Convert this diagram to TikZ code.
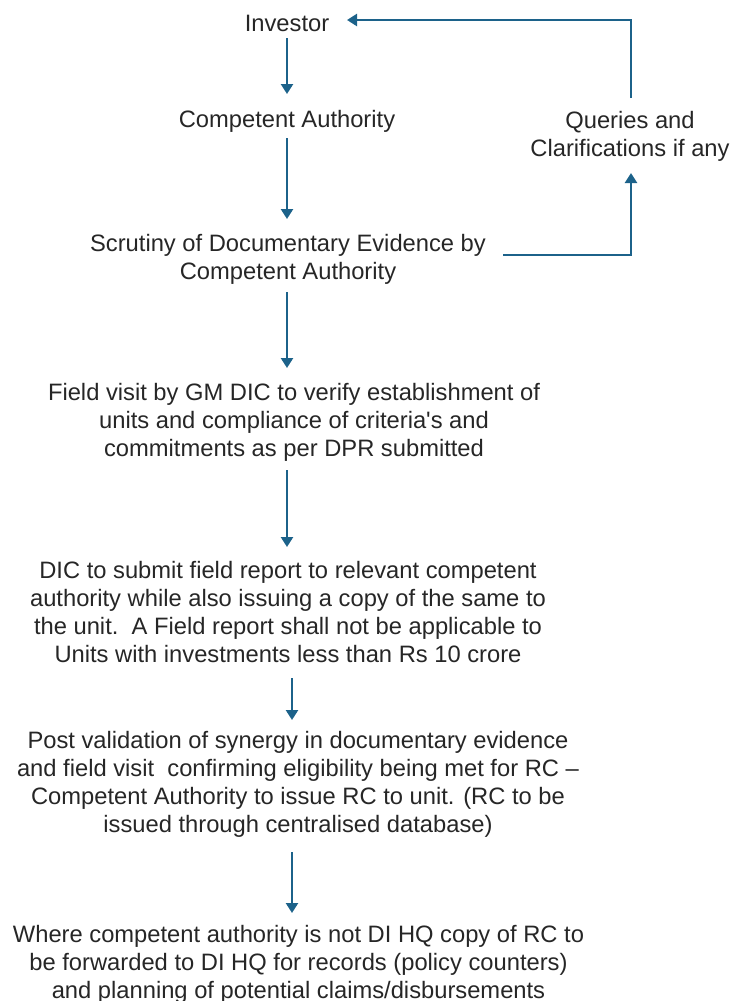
\documentclass[tikz,border=0pt]{standalone}
\usepackage{fontspec}
\setmainfont{Liberation Sans}
\usetikzlibrary{arrows.meta,calc}
\definecolor{flow}{RGB}{28,98,138}
\begin{document}
\begin{tikzpicture}[x=0.75pt,y=-0.75pt,
  txt/.style={inner sep=0pt,align=center,anchor=north,font=\fontsize{17.8pt}{21.2pt}\selectfont,text=black!85},
  one/.style={txt,anchor=base},
  arr/.style={draw=flow,line width=1.8pt,-{Triangle[width=9pt,length=7.5pt]}}]
\useasboundingbox (0,0) rectangle (732,1001);
\node[one] (inv) at (287,31) {Investor};
\node[one] (ca) at (287,127) {Competent Authority};
\node[txt] (scr) at (288,233.7) {Scrutiny of Documentary Evidence by\\Competent Authority};
\node[txt] (fv) at (294,382.7) {Field visit by GM DIC to verify establishment of\\units and compliance of criteria\textquotesingle s and\\commitments as per DPR submitted};
\node[txt] (dic) at (288,560.7) {DIC to submit field report to relevant competent\\authority while also issuing a copy of the same to\\the unit.\ \ A Field report shall not be applicable to\\Units with investments less than Rs 10 crore};
\node[txt] (pv) at (298,730.7) {Post validation of synergy in documentary evidence\\and field visit\ \ confirming eligibility being met for RC –\\Competent Authority to issue RC to unit. (RC to be\\issued through centralised database)};
\node[txt] (wh) at (298.5,924.7) {Where competent authority is not DI HQ copy of RC to\\be forwarded to DI HQ for records (policy counters)\\and planning of potential claims/disbursements};
\node[txt] (qc) at (630,110.7) {Queries and\\Clarifications if any};
\draw[arr] ($(inv.base)+(0,7)$) -- ($(ca.base)+(0,-33)$);
\draw[arr] ($(ca.base)+(0,11)$) -- ($(scr.north)+(-1,-14.7)$);
\draw[arr] ($(scr.north)+(-1,58.3)$) -- ($(fv.north)+(-7,-14.7)$);
\draw[arr] ($(fv.north)+(-7,87.3)$) -- ($(dic.north)+(-1,-13.7)$);
\draw[arr] ($(dic.north)+(4,117.3)$) -- ($(pv.north)+(-6,-10.7)$);
\draw[arr] ($(pv.north)+(-6,121.3)$) -- ($(wh.north)+(-6.5,-11.7)$);
\draw[arr] ($(scr.north)+(215,21.3)$) -| ($(qc.north)+(1,62.3)$);
\draw[arr] ($(qc.north)+(1,-12.7)$) |- ($(inv.base)+(60,-11)$);
\end{tikzpicture}
\end{document}
